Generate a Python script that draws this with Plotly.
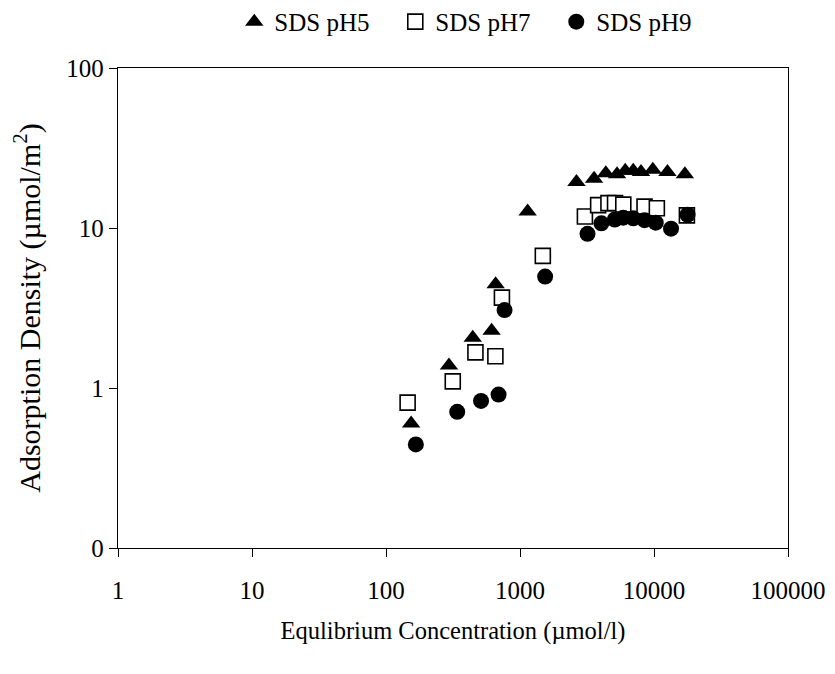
import plotly.graph_objects as go

ph5_x = [154, 295, 444, 614, 658, 1140, 2640, 3570, 4370, 5300, 6100, 7000, 8000, 9800, 12600, 17000]
ph5_y = [0.60, 1.38, 2.06, 2.28, 4.45, 12.7, 19.4, 20.3, 22.0, 21.7, 22.8, 22.8, 22.4, 23.1, 22.4, 21.7]

ph7_x = [145, 315, 465, 655, 733, 1480, 3050, 3830, 4570, 5120, 5900, 8500, 10500, 17600]
ph7_y = [0.81, 1.10, 1.67, 1.58, 3.67, 6.7, 11.8, 13.9, 14.3, 14.3, 14.0, 13.6, 13.3, 12.0]

ph9_x = [167, 340, 512, 692, 767, 1540, 3190, 4050, 5100, 5900, 7000, 8500, 10300, 13400, 17800]
ph9_y = [0.444, 0.71, 0.83, 0.91, 3.07, 4.97, 9.2, 10.7, 11.3, 11.6, 11.5, 11.2, 10.8, 9.9, 12.1]

series_names = ["SDS pH5", "SDS pH7", "SDS pH9"]

x_ticks = [1, 10, 100, 1000, 10000, 100000]
x_ticktext = ["1", "10", "100", "1000", "10000", "100000"]
y_ticks = [0.1, 1, 10, 100]
y_ticktext = ["0", "1", "10", "100"]

FONT = "Liberation Serif, Times New Roman, serif"

fig = go.Figure()
fig.add_trace(go.Scatter(x=ph5_x, y=ph5_y, mode="markers", name=series_names[0],
                         marker=dict(symbol="triangle-up", size=16, color="black",
                                     line=dict(width=0))))
fig.add_trace(go.Scatter(x=ph7_x, y=ph7_y, mode="markers", name=series_names[1],
                         marker=dict(symbol="square", size=15, color="white",
                                     line=dict(width=1.6, color="black"))))
fig.add_trace(go.Scatter(x=ph9_x, y=ph9_y, mode="markers", name=series_names[2],
                         marker=dict(symbol="circle", size=16, color="black",
                                     line=dict(width=0))))

fig.update_layout(
    width=835, height=674,
    paper_bgcolor="white", plot_bgcolor="white",
    margin=dict(l=110, r=55, t=60, b=134, autoexpand=False),
    font=dict(family=FONT, size=24, color="black"),
    showlegend=True,
    legend=dict(orientation="h", x=0.534, xanchor="center", y=1.096, yanchor="middle",
                font=dict(family=FONT, size=25, color="black"),
                entrywidth=116, entrywidthmode="pixels",
                itemwidth=30, tracegroupgap=0, bgcolor="rgba(0,0,0,0)"),
    xaxis=dict(type="log", range=[0, 5], tickvals=x_ticks, ticktext=x_ticktext,
               automargin=False,
               showgrid=False, zeroline=False, showline=True, linecolor="black",
               linewidth=1.3, mirror=True, ticks="outside", ticklen=8,
               tickcolor="black", tickwidth=1.3, ticklabelstandoff=12,
               tickfont=dict(family=FONT, size=25, color="black"),
               title=dict(text="Equlibrium Concentration (µmol/l)",
                          font=dict(family=FONT, size=24.5, color="black"),
                          standoff=18)),
    yaxis=dict(type="log", range=[-1, 2], tickvals=y_ticks, ticktext=y_ticktext,
               automargin=False,
               showgrid=False, zeroline=False, showline=True, linecolor="black",
               linewidth=1.3, mirror=True, ticks="outside", ticklen=8,
               tickcolor="black", tickwidth=1.3, ticklabelstandoff=0,
               tickfont=dict(family=FONT, size=25, color="black"),
               title=dict(text="Adsorption Density (µmol/m<sup>2</sup>)",
                          font=dict(family=FONT, size=30, color="black"),
                          standoff=22)),
)

fig.write_html("out.html")
